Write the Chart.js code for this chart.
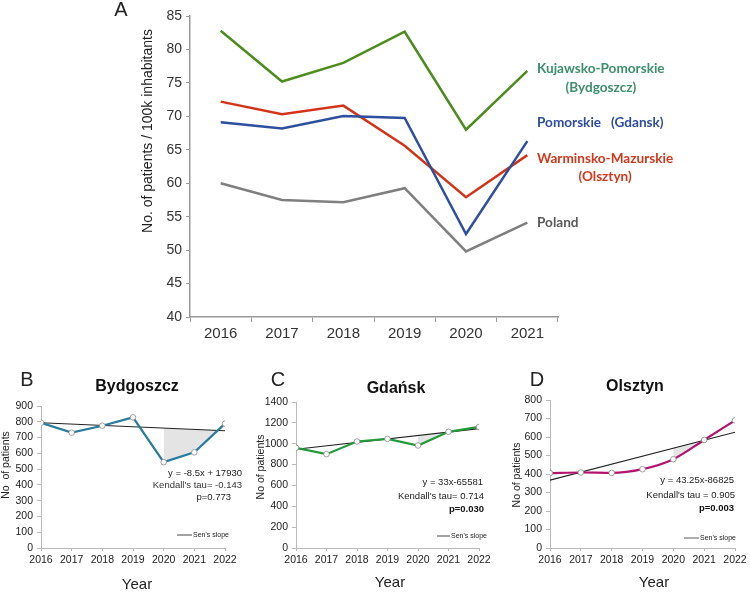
<!DOCTYPE html>
<html><head><meta charset="utf-8">
<script src="https://cdn.jsdelivr.net/npm/chart.js@4.4.0/dist/chart.umd.min.js"></script>
<style>
html,body{margin:0;padding:0;background:#fff;}
#wrap{position:relative;width:750px;height:592px;overflow:hidden;background:#fff;}
canvas{position:absolute;}
</style></head><body>
<div id="wrap">
<canvas id="cA" width="750" height="350" style="left:0;top:0;"></canvas>
<canvas id="cB" width="250" height="222" style="left:0;top:370px;"></canvas>
<canvas id="cC" width="250" height="222" style="left:250px;top:370px;"></canvas>
<canvas id="cD" width="250" height="222" style="left:500px;top:370px;"></canvas>
</div>
<script>
// ---- Panel A data ----
const yearsA = ['2016','2017','2018','2019','2020','2021'];
const kujawsko = [82.8, 75.2, 78.0, 82.65, 68.0, 76.8];
const pomorskie = [69.1, 68.2, 70.05, 69.75, 52.4, 66.3];
const warminsko = [72.2, 70.3, 71.6, 65.6, 57.9, 64.2];
const poland = [60.0, 57.5, 57.15, 59.25, 49.8, 54.1];
const yMinA = 40, yMaxA = 85, yStepA = 5;

// ---- Panels B-D data ----
const years = [2016, 2017, 2018, 2019, 2020, 2021, 2022];
const bydgoszcz = [794, 731, 775, 828, 544, 606, 788];
const gdansk = [961, 900, 1021, 1047, 983, 1114, 1161];
const olsztyn = [405, 408, 406, 426, 480, 584, 690];
const senYears = [2016, 2022];
const senB = [794, 743];
const senC = [947, 1145];
const senD = [367, 626];
const shadeYearsB = [2020, 2021, 2022];
const shadeB = [760, 751.5, 743];
const shadeYearsC = [2020, 2021];
const shadeC = [1079, 1112];
const shadeYearsD = [2020, 2021];
const shadeD = [540, 583];

const SANS = "'Liberation Sans', Arial, sans-serif";

const overlay = {
  id: 'overlay',
  afterDatasetsDraw(chart, args, opts) {
    const ctx = chart.ctx;
    (opts.items || []).forEach(it => {
      ctx.save();
      if (it.line) {
        ctx.strokeStyle = it.color; ctx.lineWidth = it.w || 1;
        ctx.beginPath(); ctx.moveTo(it.x1, it.y); ctx.lineTo(it.x2, it.y); ctx.stroke();
        ctx.restore(); return;
      }
      ctx.font = it.font; ctx.fillStyle = it.color || '#222';
      ctx.textAlign = it.align || 'center'; ctx.textBaseline = 'middle';
      let y = it.y;
      if (it.yv !== undefined) y = chart.scales.y.getPixelForValue(it.yv) + (it.dy || 0);
      let x = it.x;
      if (it.under) { x = it.x + ctx.measureText(it.under).width / 2; ctx.textAlign = 'center'; }
      if (it.rot) { ctx.translate(x, y); ctx.rotate(it.rot); ctx.fillText(it.text, 0, 0); }
      else ctx.fillText(it.text, x, y);
      ctx.restore();
    });
  }
};

// ---- Chart A ----
const LBL = "bold 13.6px Lato, 'Open Sans', sans-serif";
new Chart(document.getElementById('cA'), {
  type: 'line',
  data: {
    labels: yearsA,
    datasets: [
      { data: kujawsko, borderColor: '#4e8c1f', borderWidth: 2.5, pointRadius: 0, tension: 0 },
      { data: pomorskie, borderColor: '#2d4f9e', borderWidth: 2.5, pointRadius: 0, tension: 0 },
      { data: warminsko, borderColor: '#d2341a', borderWidth: 2.5, pointRadius: 0, tension: 0 },
      { data: poland, borderColor: '#7f7f7f', borderWidth: 2.5, pointRadius: 0, tension: 0 }
    ]
  },
  options: {
    responsive: false, animation: false,
    layout: { padding: { left: 140, right: 192, top: 16, bottom: 0 } },
    plugins: {
      legend: { display: false }, tooltip: { enabled: false },
      overlay: { items: [
        { text: 'A', x: 121, y: 10, font: "20px " + SANS, color: '#222' },
        { text: 'No. of patients / 100k inhabitants', x: 148, y: 131, rot: -Math.PI / 2, font: "14px " + SANS, color: '#222' },
        { text: 'Kujawsko-Pomorskie', x: 537, yv: 77.08, align: 'left', font: LBL, color: '#3e8e6e' },
        { text: '(Bydgoszcz)', x: 537, under: 'Kujawsko-Pomorskie', yv: 77.08, dy: 19, font: LBL, color: '#3e8e6e' },
        { text: 'Pomorskie   (Gdansk)', x: 537, yv: 69.0, align: 'left', font: LBL, color: '#2e4d9d' },
        { text: 'Warminsko-Mazurskie', x: 537, yv: 63.62, align: 'left', font: LBL, color: '#d0391d' },
        { text: '(Olsztyn)', x: 537, under: 'Warminsko-Mazurskie', yv: 63.62, dy: 18, font: LBL, color: '#d0391d' },
        { text: 'Poland', x: 537, yv: 54.05, align: 'left', font: LBL, color: '#595959' }
      ] }
    },
    scales: {
      x: {
        type: 'category', offset: true,
        grid: { offset: true, drawOnChartArea: false, drawTicks: true, tickLength: 5, color: '#999' },
        border: { color: '#999', width: 1.5 },
        ticks: { font: { family: SANS, size: 15 }, color: '#333', padding: 3, maxRotation: 0 },
        afterFit: s => { s.height = 33; }
      },
      y: {
        min: yMinA, max: yMaxA,
        ticks: { stepSize: yStepA, font: { family: SANS, size: 14 }, color: '#333', padding: 4 },
        grid: { drawOnChartArea: false, tickLength: 4, color: '#999' },
        border: { color: '#999', width: 1.5 },
        afterFit: s => { s.width = 50; }
      }
    }
  },
  plugins: [overlay]
});

// ---- Small charts ----
function small(id, vals, sen, shX, shY, color, yMax, yStep, pad, yW, items, tension) {
  const pts = years.map((y, i) => ({ x: y, y: vals[i] }));
  const senPts = senYears.map((y, i) => ({ x: y, y: sen[i] }));
  const shPts = shX.map((y, i) => ({ x: y, y: shY[i] }));
  new Chart(document.getElementById(id), {
    type: 'line',
    data: {
      datasets: [
        { data: pts, borderColor: color, borderWidth: 2.2, tension: tension, cubicInterpolationMode: tension ? 'monotone' : 'default',
          pointRadius: 2.8, pointBackgroundColor: '#fff', pointBorderColor: '#888', pointBorderWidth: 0.8 },
        { data: senPts, borderColor: '#222', borderWidth: 1.1, pointRadius: 0, tension: 0 },
        { data: shPts, borderWidth: 0, borderColor: 'rgba(0,0,0,0)', pointRadius: 0, tension: 0,
          fill: { target: 0, above: '#e4e4e4', below: 'rgba(0,0,0,0)' } }
      ]
    },
    options: {
      responsive: false, animation: false,
      layout: { padding: pad },
      plugins: { legend: { display: false }, tooltip: { enabled: false }, overlay: { items: items } },
      scales: {
        x: {
          type: 'linear', min: 2016, max: 2022,
          ticks: { stepSize: 1, callback: v => String(v), font: { family: SANS, size: 10.5 }, color: '#222', padding: 3, maxRotation: 0 },
          grid: { drawOnChartArea: false, tickLength: 3, color: '#bbb' },
          border: { color: '#bbb' },
          afterFit: s => { s.height = 44; }
        },
        y: {
          min: 0, max: yMax,
          ticks: { stepSize: yStep, callback: v => String(v), font: { family: SANS, size: 10.5 }, color: '#222', padding: 4 },
          grid: { drawOnChartArea: false, tickLength: 4, color: '#bbb' },
          border: { color: '#bbb' },
          afterFit: s => { s.width = yW; }
        }
      }
    },
    plugins: [overlay]
  });
}

const ANN = "9.5px " + SANS, ANNB = "bold 9.5px " + SANS, LEG = "7px " + SANS;
const TITLE = "bold 16px " + SANS, LET = "20px " + SANS, AX = "10.5px " + SANS, YR = "15px " + SANS;

small('cB', bydgoszcz, senB, shadeYearsB, shadeB, '#2b7b9c', 900, 100,
  { left: 0, right: 25, top: 36, bottom: 0 }, 41, [
    { text: 'B', x: 27, y: 10, font: LET, color: '#222' },
    { text: 'Bydgoszcz', x: 137, y: 17, font: TITLE, color: '#111' },
    { text: 'No  of patients', x: 6, y: 95, rot: -Math.PI / 2, font: AX, color: '#222' },
    { text: 'Year', x: 137, y: 215, font: YR, color: '#222' },
    { text: 'y = -8.5x + 17930', x: 242, y: 103, align: 'right', font: ANN, color: '#222' },
    { text: "Kendall's tau= -0.143", x: 242, y: 115, align: 'right', font: ANN, color: '#333' },
    { text: 'p=0.773', x: 231, y: 127, align: 'right', font: ANN, color: '#222' },
    { line: true, x1: 177, x2: 192, y: 165, color: '#444', w: 1 },
    { text: "Sen's slope", x: 193, y: 165, align: 'left', font: LEG, color: '#222' }
  ], 0);

small('cC', gdansk, senC, shadeYearsC, shadeC, '#229a3a', 1400, 200,
  { left: 5, right: 21, top: 32, bottom: 0 }, 41, [
    { text: 'C', x: 28, y: 10, font: LET, color: '#222' },
    { text: 'Gdańsk', x: 146, y: 19, font: TITLE, color: '#111' },
    { text: 'No of patients', x: 11, y: 97, rot: -Math.PI / 2, font: AX, color: '#222' },
    { text: 'Year', x: 140, y: 213, font: YR, color: '#222' },
    { text: 'y = 33x-65581', x: 233, y: 112, align: 'right', font: ANN, color: '#222' },
    { text: "Kendall's tau= 0.714", x: 234, y: 126, align: 'right', font: ANN, color: '#222' },
    { text: 'p=0.030', x: 234, y: 139, align: 'right', font: ANNB, color: '#111' },
    { line: true, x1: 187, x2: 200, y: 166, color: '#444', w: 1 },
    { text: "Sen's slope", x: 201, y: 166, align: 'left', font: LEG, color: '#222' }
  ], 0);

small('cD', olsztyn, senD, shadeYearsD, shadeD, '#b3156e', 800, 100,
  { left: 11, right: 15, top: 30, bottom: 0 }, 39, [
    { text: 'D', x: 37, y: 10, font: LET, color: '#222' },
    { text: 'Olsztyn', x: 135, y: 17, font: TITLE, color: '#111' },
    { text: 'No of patients', x: 17, y: 105, rot: -Math.PI / 2, font: AX, color: '#222' },
    { text: 'Year', x: 154, y: 213, font: YR, color: '#222' },
    { text: 'y = 43.25x-86825', x: 234, y: 110, align: 'right', font: ANN, color: '#222' },
    { text: "Kendall's tau = 0.905", x: 235, y: 125, align: 'right', font: ANN, color: '#222' },
    { text: 'p=0.003', x: 234, y: 138, align: 'right', font: ANNB, color: '#111' },
    { line: true, x1: 184, x2: 199, y: 168, color: '#777', w: 1.2 },
    { text: "Sen's slope", x: 200, y: 168, align: 'left', font: LEG, color: '#222' }
  ], 0.4);
</script>
</body></html>
